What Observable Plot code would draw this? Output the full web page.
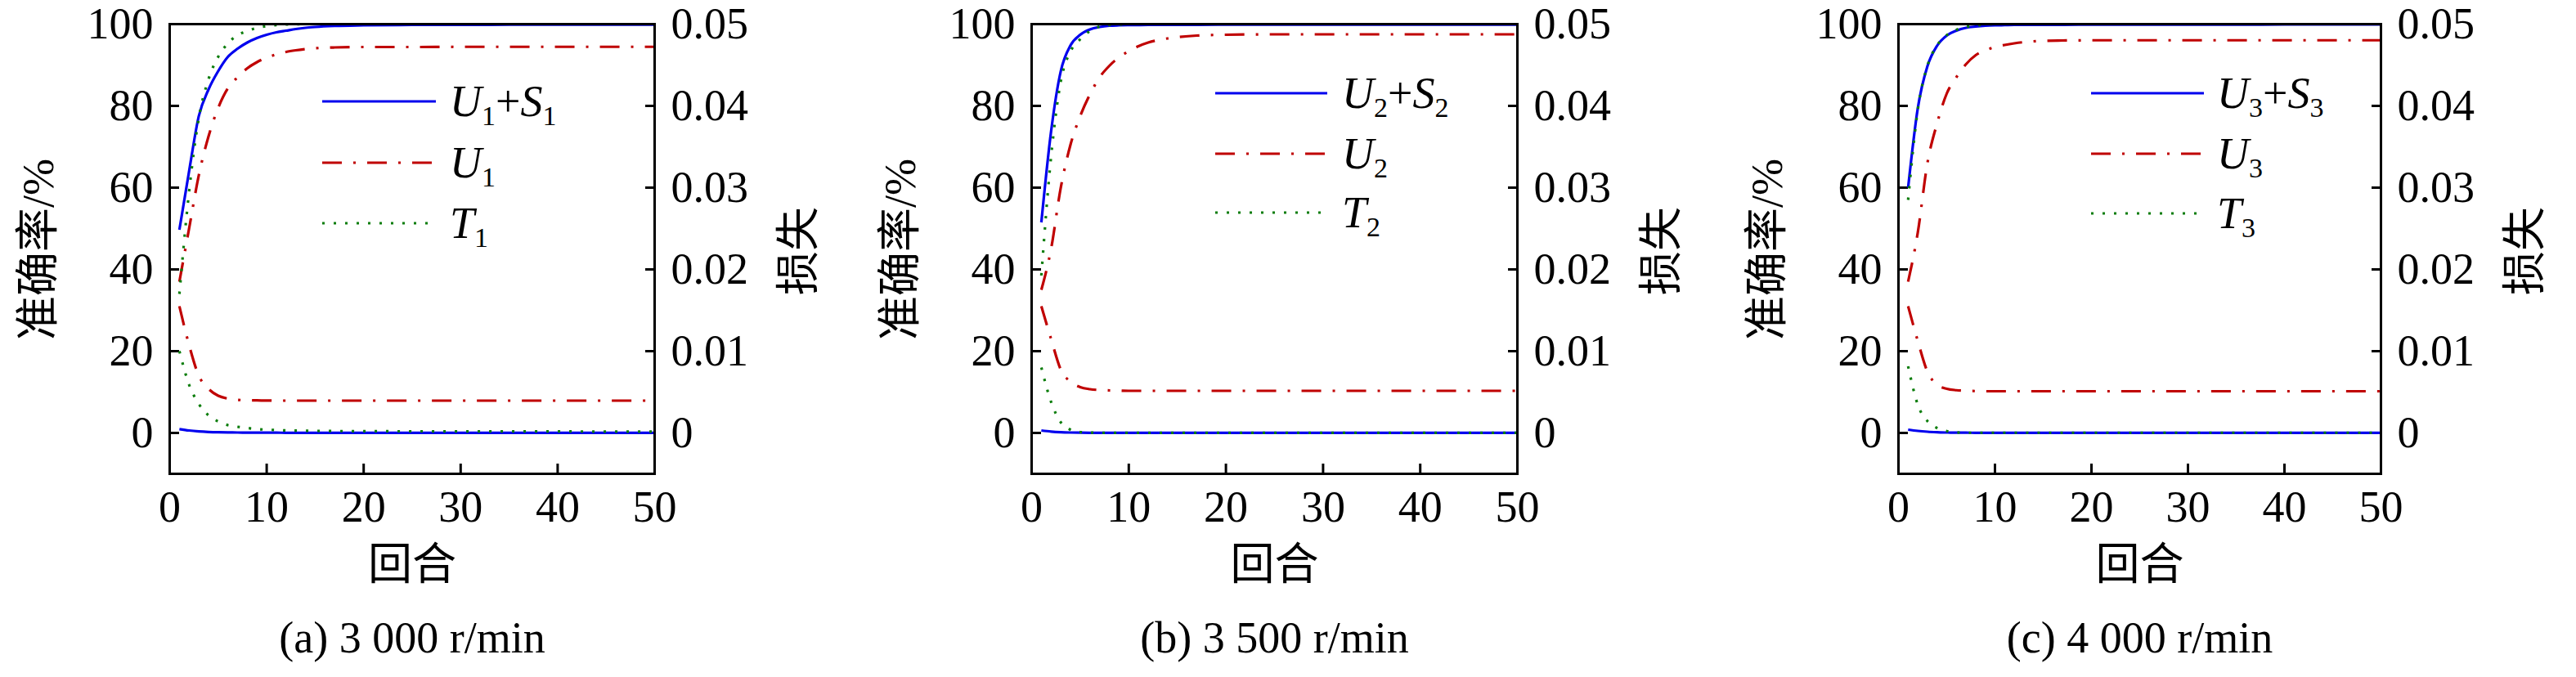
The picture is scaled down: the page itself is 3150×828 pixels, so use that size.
<!DOCTYPE html>
<html><head><meta charset="utf-8">
<script src="https://cdn.jsdelivr.net/npm/d3@7"></script>
<script src="https://cdn.jsdelivr.net/npm/@observablehq/plot@0.6"></script>
<style>
body{margin:0;background:#fff;width:3150px;height:828px;overflow:hidden}
.panel{position:absolute;top:0;width:1050px;height:828px}
</style></head><body>
<div id="pa" class="panel" style="left:0"></div>
<div id="pb" class="panel" style="left:1050px"></div>
<div id="pc" class="panel" style="left:2100px"></div>
<script>
// ---------- data ----------
const epochs = [1,2,3,4,5,6,7,8,9,10,11,12,13,14,15,17,20,25,30,35,40,45,50];
const xTicks = [0,10,20,30,40,50];
const accTicks = [0,20,40,60,80,100];
const lossTicks = [0,0.01,0.02,0.03,0.04,0.05];
const lossTickLabels = ["0","0.01","0.02","0.03","0.04","0.05"];
const captions = ["(a) 3 000 r/min","(b) 3 500 r/min","(c) 4 000 r/min"];
const subIndex = ["1","2","3"];
const yLabelLeft = "准确率/%";
const yLabelRight = "损失";
const xLabel = "回合";

// panel (a) 3000 r/min
const accUS_a = [49.7,64,77.5,84,88.5,92,94,95.5,96.6,97.4,98,98.4,98.8,99.1,99.3,99.55,99.7,99.8,99.82,99.85,99.85,99.87,99.87];
const lossUS_a = [0.00047,0.0003,0.00019,0.00012,0.00008,0.00006,0.00005,0.00004,0.00003,0.00003,0.00003,0.00002,0.00002,0.00002,0.00002,0.00002,0.00002,0.00001,0.00001,0.00001,0.00001,0.00001,0.00001];
const accU_a = [37,50,63,72.5,79.5,84.3,87,89.2,90.7,91.8,92.6,93.2,93.6,93.9,94.1,94.3,94.4,94.4,94.45,94.45,94.45,94.45,94.45];
const lossU_a = [0.0155,0.01075,0.007,0.0054,0.00455,0.0042,0.00405,0.004,0.00398,0.00396,0.00395,0.00395,0.00395,0.00395,0.00395,0.00395,0.00395,0.00395,0.00395,0.00395,0.00395,0.00395,0.00395];
const accT_a = [34,59,77,86.5,92,95.3,97.3,98.3,99.1,99.5,99.75,99.9,99.95,100,100,100,100,100,100,100,100,100,100];
const lossT_a = [0.01,0.0059,0.00355,0.00215,0.0014,0.00095,0.00075,0.0006,0.000475,0.0004,0.00035,0.00031,0.00028,0.00026,0.00025,0.00023,0.00021,0.0002,0.00019,0.00018,0.00018,0.00017,0.00017];

// panel (b) 3500 r/min
const accUS_b = [51.5,73.7,88.5,94.8,97.4,98.7,99.3,99.6,99.7,99.75,99.78,99.8,99.8,99.82,99.82,99.84,99.85,99.86,99.87,99.87,99.88,99.88,99.88];
const lossUS_b = [0.0003,0.00017,0.00009,0.00005,0.00003,0.00002,0.00002,0.00002,0.00002,0.00002,0.00002,0.00002,0.00002,0.00002,0.00002,0.00001,0.00001,0.00001,0.00001,0.00001,0.00001,0.00001,0.00001];
const accU_b = [35,45,60,70.5,77.5,82.8,87,89.8,91.9,93.4,94.6,95.5,96.1,96.5,96.8,97.2,97.4,97.5,97.5,97.5,97.5,97.5,97.5];
const lossU_b = [0.0155,0.0115,0.00775,0.00625,0.0056,0.00535,0.00525,0.0052,0.00518,0.00515,0.00515,0.00515,0.00515,0.00515,0.00515,0.00515,0.00515,0.00515,0.00515,0.00515,0.00515,0.00515,0.00515];
const accT_b = [38.5,67.5,86,93.3,96.3,98.3,99.4,99.8,99.9,100,100,100,100,100,100,100,100,100,100,100,100,100,100];
const lossT_b = [0.008,0.0038,0.0013,0.0004,0.0001,0.00004,0.00002,0.00002,0.00002,0.00002,0.00002,0.00002,0.00002,0.00002,0.00002,0.00002,0.00002,0.00002,0.00002,0.00002,0.00002,0.00002,0.00002];

// panel (c) 4000 r/min
const accUS_c = [60,79.4,89.7,94.7,97.2,98.4,99.1,99.4,99.6,99.7,99.75,99.8,99.8,99.82,99.82,99.84,99.85,99.86,99.87,99.88,99.9,99.9,99.9];
const lossUS_c = [0.0004,0.00025,0.00015,0.00009,0.00005,0.00004,0.00003,0.00002,0.00002,0.00002,0.00002,0.00002,0.00002,0.00002,0.00002,0.00001,0.00001,0.00001,0.00001,0.00001,0.00001,0.00001,0.00001];
const accU_c = [37,49,66,75.7,83,87,90.2,92.4,93.6,94.4,94.9,95.3,95.6,95.8,95.9,96,96.05,96.05,96.05,96.05,96.05,96.05,96.05];
const lossU_c = [0.0155,0.01125,0.0075,0.0059,0.0054,0.005225,0.00515,0.005125,0.0051,0.0051,0.0051,0.0051,0.0051,0.0051,0.0051,0.0051,0.0051,0.0051,0.0051,0.0051,0.0051,0.0051,0.0051];
const accT_c = [57,79,89.8,94.8,97.3,98.6,99.3,99.7,99.9,100,100,100,100,100,100,100,100,100,100,100,100,100,100];
const lossT_c = [0.00815,0.00345,0.00145,0.0006,0.000225,0.000075,0.000025,0.000025,0.000025,0.000025,0.000025,0.000025,0.000025,0.000025,0.000025,0.000025,0.000025,0.000025,0.000025,0.000025,0.000025,0.000025,0.000025];

// ---------- styling ----------
const SERIF = "Liberation Serif, Noto Sans CJK SC, serif";
const FS = 54;
const styles = {
  US: {stroke: "#0000ee", strokeWidth: 3.2, dash: null},
  U:  {stroke: "#c00000", strokeWidth: 3.2, dash: "24 14 3 14"},
  T:  {stroke: "#0b7d0b", strokeWidth: 3.2, dash: "3 11"}
};
const lossToPct = d3.scaleLinear().domain([0, 0.05]).range([0, 100]);

const panels = [
  {el: "#pa", ml: 207, mr: 250, acc: {US: accUS_a, U: accU_a, T: accT_a}, loss: {US: lossUS_a, U: lossU_a, T: lossT_a},
   legend: {x1: 394, x2: 533, tx: 550, ys: [124, 199, 273]}},
  {el: "#pb", ml: 211, mr: 245, acc: {US: accUS_b, U: accU_b, T: accT_b}, loss: {US: lossUS_b, U: lossU_b, T: lossT_b},
   legend: {x1: 436, x2: 573, tx: 591, ys: [114, 188, 260]}},
  {el: "#pc", ml: 221, mr: 239, acc: {US: accUS_c, U: accU_c, T: accT_c}, loss: {US: lossUS_c, U: lossU_c, T: lossT_c},
   legend: {x1: 457, x2: 595, tx: 611, ys: [114, 188, 261]}}
];

panels.forEach((p, pi) => {
  const rows = [];
  for (const m of ["US", "U", "T"]) {
    p.acc[m].forEach((v, i) => rows.push({epoch: epochs[i], value: v, method: m, kind: "acc"}));
    p.loss[m].forEach((v, i) => rows.push({epoch: epochs[i], value: lossToPct(v), method: m, kind: "loss"}));
  }
  const lineMark = m => Plot.line(rows.filter(d => d.method === m), {
    x: "epoch", y: "value", z: "kind", curve: "monotone-x",
    stroke: styles[m].stroke, strokeWidth: styles[m].strokeWidth,
    strokeDasharray: styles[m].dash, strokeLinecap: "butt"
  });
  const txt = {fontFamily: SERIF, fontSize: FS, fill: "black"};
  const chart = Plot.plot({
    width: 1050, height: 828,
    marginLeft: p.ml, marginRight: p.mr, marginTop: 29, marginBottom: 828 - 579,
    x: {domain: [0, 50]},
    y: {domain: [-10, 100]},
    style: {fontFamily: SERIF, fontSize: FS + "px", color: "black", background: "white", overflow: "visible"},
    marks: [
      Plot.axisX({ticks: xTicks, tickSize: -12, strokeWidth: 3, label: null, fill: "none"}),
      Plot.axisY({ticks: accTicks, anchor: "left", tickSize: -12, strokeWidth: 3, label: null, fill: "none"}),
      Plot.axisY({ticks: lossTicks.map(t => lossToPct(t)), anchor: "right", tickSize: -12, strokeWidth: 3, label: null, fill: "none"}),
      Plot.text(xTicks, {x: d => d, text: d => String(d), frameAnchor: "bottom", dy: 41, lineAnchor: "middle", ...txt}),
      Plot.text(accTicks, {y: d => d, text: d => String(d), frameAnchor: "left", dx: -20, textAnchor: "end", ...txt}),
      Plot.text(lossTicks, {y: d => lossToPct(d), text: (d, i) => lossTickLabels[i], frameAnchor: "right", dx: 20, textAnchor: "start", ...txt}),
      lineMark("US"), lineMark("U"), lineMark("T"),
      Plot.frame({stroke: "black", strokeWidth: 3}),
      Plot.text([xLabel], {text: d => d, frameAnchor: "bottom", dy: 129, ...txt}),
      Plot.text([captions[pi]], {text: d => d, frameAnchor: "bottom", dy: 218, ...txt})
    ]
  });
  document.querySelector(p.el).append(chart);

  const svg = d3.select(chart);
  const frameL = p.ml, frameR = 1050 - p.mr, frameMidY = (29 + 579) / 2;

  // rotated axis titles (centred on the frame height)
  const titles = svg.append("g").attr("font-family", SERIF).attr("font-size", FS).attr("fill", "black");
  titles.append("text").text(yLabelLeft)
    .attr("text-anchor", "middle").attr("dominant-baseline", "central")
    .attr("transform", `translate(${frameL - 160},${frameMidY + 1}) rotate(-90)`);
  titles.append("text").text(yLabelRight)
    .attr("text-anchor", "middle").attr("dominant-baseline", "central")
    .attr("transform", `translate(${frameR + 177},${frameMidY + 3}) rotate(-90)`);

  // legend
  const g = svg.append("g").attr("font-family", SERIF).attr("font-size", FS).attr("text-anchor", "start");
  const s = subIndex[pi];
  const entries = [
    {m: "US", parts: [["U", true], [s, "sub"], ["+", false], ["S", true], [s, "sub"]]},
    {m: "U", parts: [["U", true], [s, "sub"]]},
    {m: "T", parts: [["T", true], [s, "sub"]]}
  ];
  entries.forEach((e, k) => {
    const y = p.legend.ys[k];
    const st = styles[e.m];
    g.append("line").attr("x1", p.legend.x1).attr("x2", p.legend.x2).attr("y1", y).attr("y2", y)
      .attr("stroke", st.stroke).attr("stroke-width", st.strokeWidth)
      .attr("stroke-dasharray", st.dash).attr("stroke-linecap", "butt");
    const t = g.append("text").attr("x", p.legend.tx).attr("y", y + 18).attr("fill", "black").attr("text-anchor", "start");
    let sub = false;
    e.parts.forEach(([str, kind]) => {
      const ts = t.append("tspan").text(str);
      if (kind === "sub") {
        ts.attr("font-size", 34).attr("dy", 11).attr("font-style", "normal");
        sub = true;
      } else {
        if (sub) { ts.attr("dy", -11); sub = false; }
        ts.attr("font-style", kind ? "italic" : "normal");
      }
    });
  });
});
</script>
</body></html>
